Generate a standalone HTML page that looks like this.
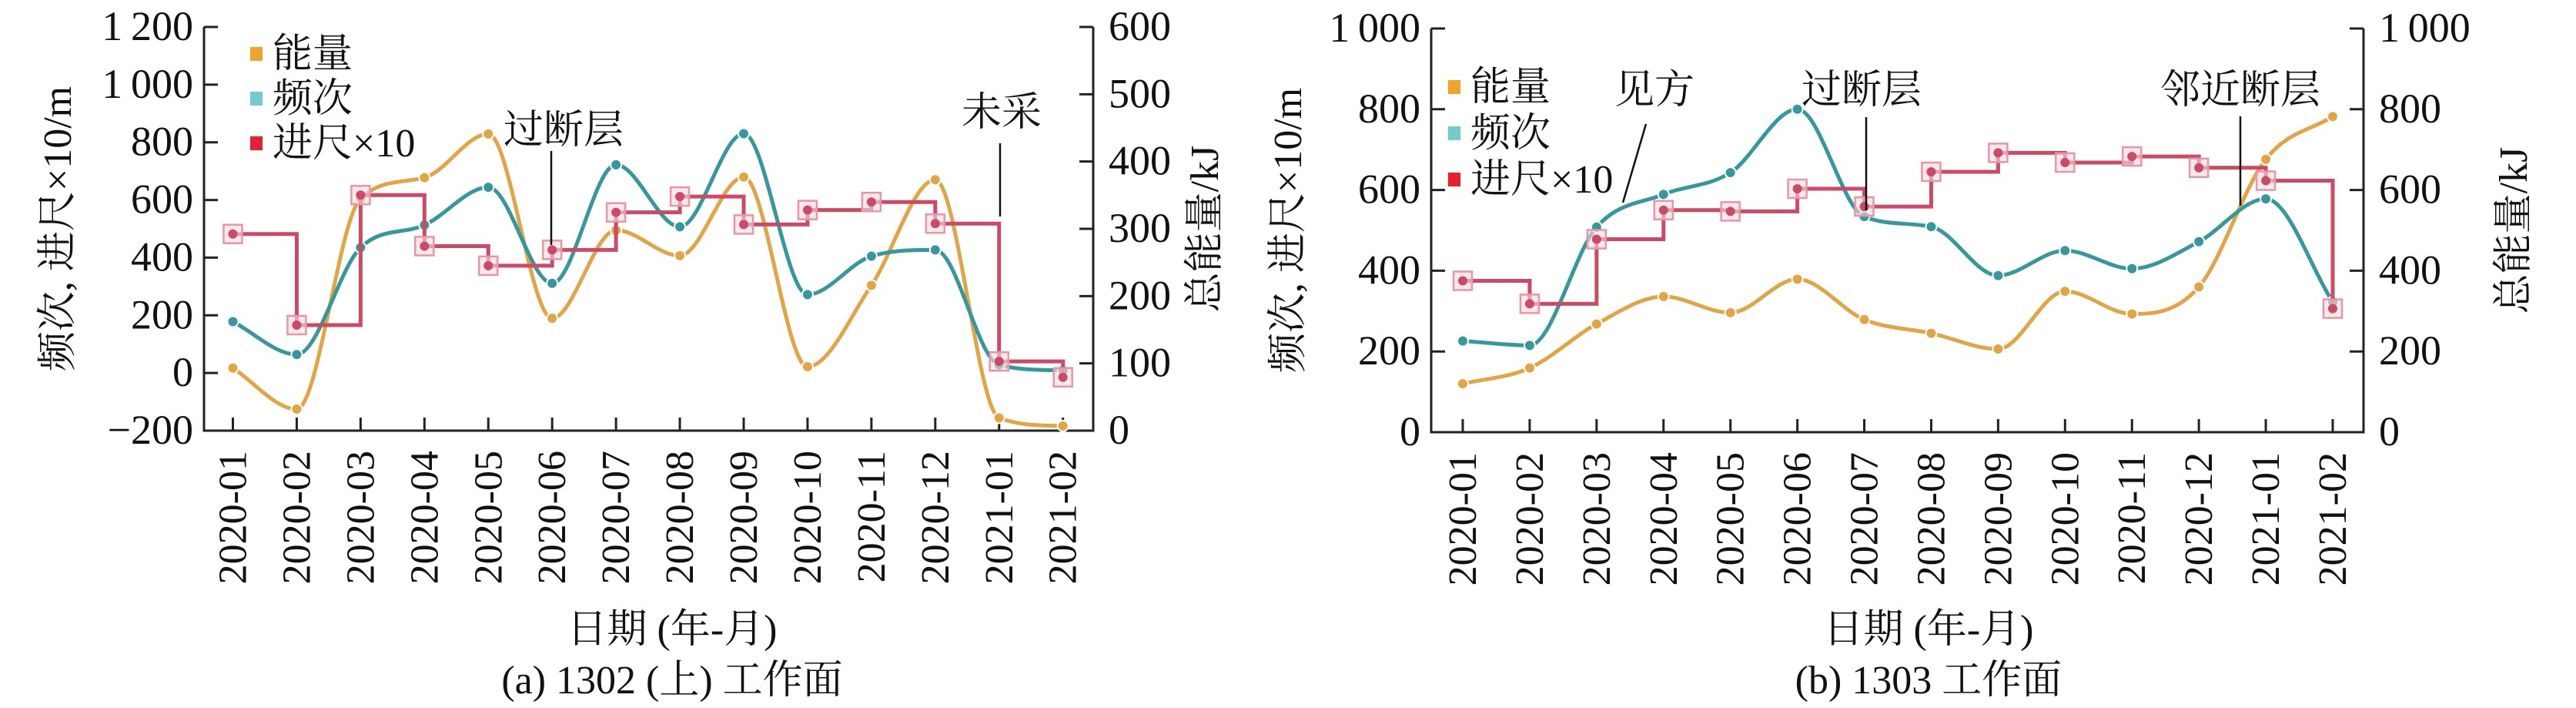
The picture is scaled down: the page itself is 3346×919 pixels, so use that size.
<!DOCTYPE html>
<html><head><meta charset="utf-8"><style>
html,body{margin:0;padding:0;background:#fff;}
svg{display:block;}
svg text{font-family:"Liberation Serif","Noto Serif CJK SC",serif;fill:#111;}
</style></head><body>
<svg id="s" width="3346" height="919" viewBox="0 0 3346 919" xmlns="http://www.w3.org/2000/svg" font-family="Liberation Serif, Noto Serif CJK SC, serif"></svg>
<script>
const categories=["2020-01","2020-02","2020-03","2020-04","2020-05","2020-06","2020-07","2020-08","2020-09","2020-10","2020-11","2020-12","2021-01","2021-02"];
const energyA=[93,32,345,376,441,167,298,260,377,95,216,373,19,7];
const freqA=[178,64,435,513,644,311,722,507,830,272,405,427,28,9];
const advA=[482,166,617,440,372,427,557,612,515,565,593,518,40,-15];
const leftTicksA=[-200,0,200,400,600,800,1000,1200];
const rightTicksA=[0,100,200,300,400,500,600];
const energyB=[120,159,268,336,296,379,279,245,206,349,293,360,676,782];
const freqB=[226,215,508,589,643,800,534,509,388,450,405,472,578,323];
const advB=[375,318,478,550,547,603,559,645,692,668,683,655,623,306];
const leftTicksB=[0,200,400,600,800,1000];
const rightTicksB=[0,200,400,600,800,1000];

const NS="http://www.w3.org/2000/svg";
const FONT='"Liberation Serif","Noto Serif CJK SC",serif';
const svg=document.getElementById('s');
function mk(tag,attrs,parent,txt){const e=document.createElementNS(NS,tag);for(const k in attrs)e.setAttribute(k,attrs[k]);if(tag==='text')e.style.fontFamily=FONT;if(txt!==undefined)e.textContent=txt;(parent||svg).appendChild(e);return e;}
function fmt(v){const s=String(Math.abs(v));let r=s.length>3?s.slice(0,s.length-3)+"\u2009"+s.slice(-3):s;return (v<0?"\u2212":"")+r;}
function monotone(pts){
  const n=pts.length,dx=[],dy=[],m=[],t=[];
  for(let i=0;i<n-1;i++){dx[i]=pts[i+1][0]-pts[i][0];dy[i]=pts[i+1][1]-pts[i][1];m[i]=dy[i]/dx[i];}
  t[0]=m[0];t[n-1]=m[n-2];
  for(let i=1;i<n-1;i++){t[i]=(m[i-1]*m[i]<=0)?0:(m[i-1]+m[i])/2;}
  for(let i=0;i<n-1;i++){if(m[i]===0){t[i]=0;t[i+1]=0;continue;}const a=t[i]/m[i],b=t[i+1]/m[i],h=a*a+b*b;if(h>9){const k=3/Math.sqrt(h);t[i]=k*a*m[i];t[i+1]=k*b*m[i];}}
  let d="M"+pts[0][0]+","+pts[0][1];
  for(let i=0;i<n-1;i++){const h=dx[i]/3;d+=" C"+(pts[i][0]+h)+","+(pts[i][1]+t[i]*h)+" "+(pts[i+1][0]-h)+","+(pts[i+1][1]-t[i+1]*h)+" "+pts[i+1][0]+","+pts[i+1][1];}
  return d;}

function chart(cfg){
  const g=mk('g',{});
  
  
  const L=cfg.x0,R=cfg.x1,T=cfg.top,B=cfg.bottom;
  const yL=v=>B-(v-cfg.lmin)/(cfg.lmax-cfg.lmin)*(B-T);
  const yR=v=>B-(v-cfg.rmin)/(cfg.rmax-cfg.rmin)*(B-T);
  const xC=i=>cfg.c0+i*(cfg.c1-cfg.c0)/(categories.length-1);
  const ax=mk('path',{d:`M${L},${T} L${L},${B} L${R},${B} L${R},${T}`,fill:'none',stroke:'#222','stroke-width':3},g);
  
  
  cfg.lt.forEach(v=>{const y=yL(v);
    const t=mk('line',{x1:L,y1:y,x2:L+18,y2:y,stroke:'#222','stroke-width':3},g);
    
    
    const tx=mk('text',{x:L-14,y:y+17,'font-size':54,'text-anchor':'end'},g,fmt(v));
    
    });
  cfg.rt.forEach(v=>{const y=yR(v);
    const t=mk('line',{x1:R-18,y1:y,x2:R,y2:y,stroke:'#222','stroke-width':3},g);
    
    
    const tx=mk('text',{x:R+20,y:y+17,'font-size':54,'text-anchor':'start'},g,fmt(v));
    
    });
  categories.forEach((c,i)=>{const x=xC(i);
    const t=mk('line',{x1:x,y1:B-17,x2:x,y2:B,stroke:'#222','stroke-width':3},g);
    
    
    const tx=mk('text',{x:0,y:0,'font-size':52,'text-anchor':'end',transform:`translate(${x+17},${B+26}) rotate(-90)`},g,c);
    
    });
  const ePts=cfg.energy.map((v,i)=>[xC(i),yR(v)]);
  const fPts=cfg.freq.map((v,i)=>[xC(i),yL(v)]);
  const e=mk('path',{d:monotone(ePts),fill:'none',stroke:'#E3A544','stroke-width':5},g);
  
  
  const f=mk('path',{d:monotone(fPts),fill:'none',stroke:'#35989C','stroke-width':5},g);
  
  
  ePts.forEach(p=>{const c=mk('circle',{cx:p[0],cy:p[1],r:7,fill:'#E3A544',stroke:'#fff','stroke-width':2},g);
    
    });
  fPts.forEach(p=>{const c=mk('circle',{cx:p[0],cy:p[1],r:7,fill:'#35989C',stroke:'#fff','stroke-width':2},g);
    
    });
  const aPts=cfg.adv.map((v,i)=>[xC(i),yL(v)]);
  let d="M"+aPts[0][0]+","+aPts[0][1];
  for(let i=1;i<aPts.length;i++){d+=" H"+aPts[i][0]+" V"+aPts[i][1];}
  const a=mk('path',{d:d,fill:'none',stroke:'#CC4A66','stroke-width':5},g);
  
  
  aPts.forEach(p=>{const r=mk('rect',{x:p[0]-12,y:p[1]-12,width:24,height:24,fill:'#f7dbe1','fill-opacity':0.6,stroke:'#E597A7','stroke-width':2.5},g);
    
    
    const c=mk('circle',{cx:p[0],cy:p[1],r:6,fill:'#CC4A66'},g);
    
    });
  const lg=[['#F0A22A','能量'],['#72CCCC','频次'],['#E8202E','进尺×10']];
  lg.forEach((it,i)=>{const y=cfg.legY+i*cfg.legDY;
    const r=mk('rect',{x:cfg.legX,y:y-9,width:16,height:18,fill:it[0]},g);
    
    
    const t=mk('text',{x:cfg.legX+29,y:y+17,'font-size':52},g,it[1]);
    
    });
  const t1=mk('text',{x:0,y:0,'font-size':52,'text-anchor':'middle',transform:`translate(${cfg.ltX},${(T+B)/2}) rotate(-90)`},g,'频次, 进尺×10/m');
  
  
  const t2=mk('text',{x:0,y:0,'font-size':52,'text-anchor':'middle',transform:`translate(${cfg.rtX},${(T+B)/2}) rotate(-90)`},g,'总能量/kJ');
  
  
  const t3=mk('text',{x:cfg.cx,y:834,'font-size':52,'text-anchor':'middle'},g,'日期 (年-月)');
  
  
  const t4=mk('text',{x:cfg.cx,y:900,'font-size':52,'text-anchor':'middle'},g,cfg.caption);
  
  
  cfg.notes.forEach(n=>{const t=mk('text',{x:n.x,y:n.y,'font-size':52,'text-anchor':'middle'},g,n.t);
    
    
    const l=mk('line',{x1:n.l[0],y1:n.l[1],x2:n.l[2],y2:n.l[3],stroke:'#111','stroke-width':2.5},g);
    
    });
}
chart({name:'chart-1302',x0:265,x1:1420,top:35,bottom:559,c0:302.5,c1:1380.7,lmin:-200,lmax:1200,rmin:0,rmax:600,lt:leftTicksA,rt:rightTicksA,energy:energyA,freq:freqA,adv:advA,legX:325,legY:70,legDY:58,ltX:92,rtX:1582,cx:873,caption:'(a) 1302 (上) 工作面',
  notes:[{t:'过断层',x:732,y:186,l:[716,196,716,318]},{t:'未采',x:1301,y:163,l:[1299,186,1299,281]}]});
chart({name:'chart-1303',x0:1859,x1:3070,top:37,bottom:561,c0:1900,c1:3030,lmin:0,lmax:1000,rmin:0,rmax:1000,lt:leftTicksB,rt:rightTicksB,energy:energyB,freq:freqB,adv:advB,legX:1881,legY:113,legDY:60,ltX:1690,rtX:3282,cx:2505,caption:'(b) 1303 工作面',
  notes:[{t:'见方',x:2149,y:134,l:[2138,161,2108,263]},{t:'过断层',x:2418,y:134,l:[2424,152,2424,273]},{t:'邻近断层',x:2910,y:134,l:[2910,151,2910,267]}]});
</script>
</body></html>
